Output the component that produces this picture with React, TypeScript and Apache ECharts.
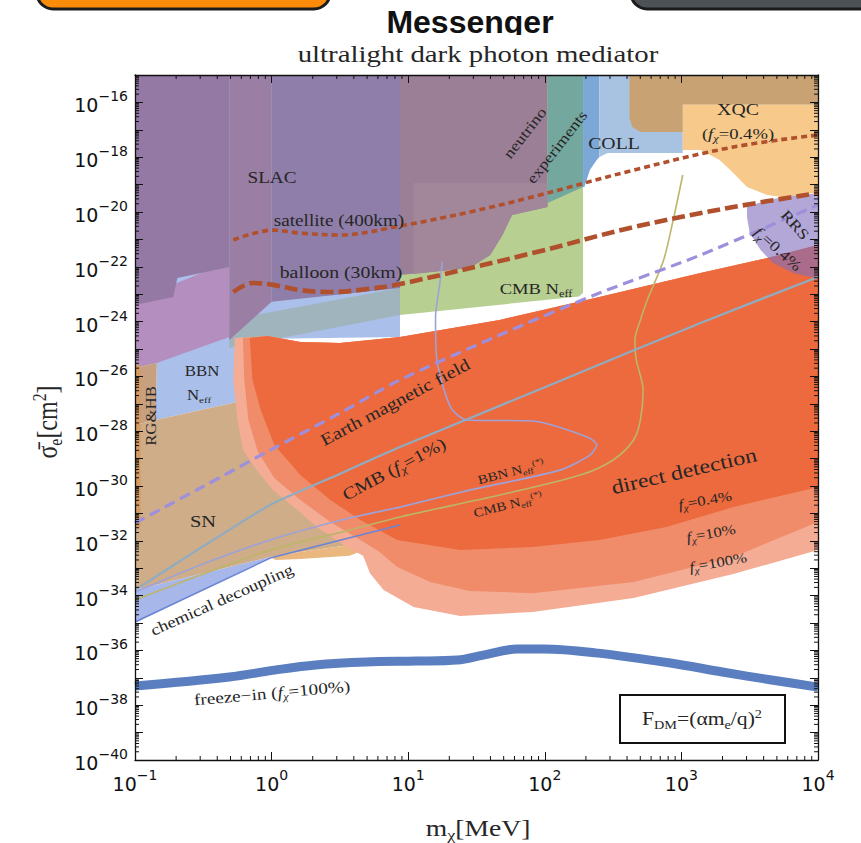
import React, { useEffect, useRef } from "react";
import * as echarts from "echarts";

// Axis ranges in decades: log10(mχ / MeV) and log10(σe / cm²)
const X_MIN = -1;
const X_MAX = 4;
const Y_MIN = -40;
const Y_MAX = -15;
const X_DECADES = [-1, 0, 1, 2, 3];
const MINOR_MULTS = [2, 3, 4, 5, 6, 7, 8, 9];

// ---- Excluded regions, vertices as [log10 mχ, log10 σe] ----
const BBN_NEFF = [[-1, -15], [0.94, -15], [0.94, -24.56], [-0.25, -24.64], [-0.25, -26.93], [-0.85, -27.59], [-0.84, -25.51], [-1, -25.69]];
const CMB_NEFF = [[0.94, -15], [2.28, -15], [2.28, -22.95], [2.25, -23.08], [2.18, -23.12], [0.94, -23.76]];
const NEFF_OVERLAP = [[-0.31, -23.94], [0.94, -22.77], [0.94, -23.76], [-0.31, -24.96]];
const LILAC = [[-1, -23.21], [-0.31, -21.82], [-0.31, -24.56], [-0.84, -25.51], [-1, -25.69]];
const SLAC_A = [[-1, -15], [-0.31, -15], [-0.31, -22.01], [-0.69, -22.41], [-0.72, -23.1], [-1, -23.39]];
const SLAC_B = [[-0.31, -15], [0, -15], [0, -23.28], [-0.31, -24.67]];
const SLAC_C = [[0, -15], [0.94, -15], [0.94, -22.77], [0, -23.28]];
const NU_A = [[0.94, -15], [2.02, -15], [2.02, -19.82], [1.76, -20.11], [1.69, -20.84], [1.6, -21.57], [1.45, -22.04], [0.94, -22.3]];
const NU_B = [[1.04, -18.94], [2.02, -18.94], [2.02, -19.82], [1.76, -20.11], [1.69, -20.84], [1.6, -21.57], [1.45, -22.04], [1.04, -22.26]];
const NU_TEAL = [[2.02, -15], [2.28, -15], [2.28, -19.09], [2.02, -19.67]];
const COLL_A = [[2.28, -15], [2.4, -15], [2.4, -17.99], [2.38, -18.1], [2.33, -18.47], [2.29, -19.09], [2.28, -19.09]];
const COLL_B = [[2.4, -15], [3.01, -15], [3.01, -17.85], [2.46, -17.85], [2.4, -17.99]];
const XQC_A = [[2.62, -15], [4, -15], [4, -16.09], [3.01, -16.09], [3.01, -17.08], [2.7, -17.08], [2.64, -16.9], [2.62, -16.57]];
const XQC_B = [[3.01, -16.09], [4, -16.09], [4, -19.27], [3.87, -19.38], [3.74, -19.45], [3.63, -19.38], [3.48, -19.09], [3.38, -18.58], [3.28, -18.1], [3.14, -17.74], [3.01, -17.74]];
const RG_HB = [[-1, -25.69], [-0.84, -25.51], [-0.85, -27.59], [-1, -27.77]];
const RG_STRIP = [[-1, -25.58], [-0.96, -25.58], [-0.96, -31.5], [-1, -31.5]];
const SN = [[-1, -27.77], [-0.85, -27.59], [-0.25, -26.93], [0.65, -26.86], [0.65, -32.26], [0.57, -32.15], [0.21, -32.41], [-0.01, -32.59], [-1, -33.8]];
const SN_EDGE = [[-0.01, -32.59], [0.21, -32.41], [0.57, -32.15], [0.68, -32.34], [0.57, -32.55], [0.21, -32.66], [0.03, -32.7]];
const CHEM = [[-1, -33.8], [-0.01, -32.59], [-1, -35]];
const RRS = [[3.48, -19.82], [3.63, -19.56], [3.8, -19.42], [4, -19.31], [4, -22.37], [3.94, -22.37], [3.82, -22.23], [3.67, -21.86], [3.58, -21.39], [3.5, -20.77], [3.48, -20.18]];

// direct detection: shared upper edge, then lower boundary for fχ = 100%, 10%, 0.4%
const DD_TOP = [[-0.27, -24.6], [-0.03, -24.53], [0.21, -24.74], [0.5, -24.78], [0.94, -24.56], [1.67, -23.94], [2.4, -23.1], [3.14, -22.23], [3.63, -21.68], [4, -21.2]];
const DD_100_LOW = [[4, -32.34], [3.38, -33.21], [2.65, -34.09], [1.91, -34.6], [1.38, -34.74], [1.04, -34.42], [0.82, -33.8], [0.72, -33.18], [0.67, -32.55], [0.55, -32.23], [0.33, -31.5], [0.19, -30.88], [0.01, -30.15], [-0.11, -29.42], [-0.21, -28.69], [-0.25, -27.59], [-0.28, -26.13], [-0.27, -24.6]];
const DD_10_LOW = [[4, -31.31], [3.38, -32.59], [2.65, -33.5], [1.91, -33.91], [1.45, -33.83], [1.16, -33.5], [0.92, -32.96], [0.79, -32.41], [0.65, -31.97], [0.43, -31.31], [0.21, -30.51], [0.02, -29.71], [-0.1, -28.76], [-0.17, -27.59], [-0.2, -26.13], [-0.21, -24.6]];
const DD_04_LOW = [[4, -30.04], [3.38, -30.77], [2.89, -31.5], [2.4, -31.97], [1.91, -32.23], [1.38, -32.34], [0.92, -31.97], [0.65, -31.24], [0.43, -30.51], [0.21, -29.6], [0.02, -28.5], [-0.08, -27.23], [-0.14, -26.13], [-0.16, -24.6]];

// ---- Curves ----
const CMB_1PCT = [[-1, -33.8], [-0.52, -32.26], [-0.01, -30.69], [0.43, -29.71], [0.94, -28.58], [2.04, -26.31], [3.14, -24.05], [4, -22.37]];
const BBN_NEFF_STAR = [[-1, -33.87], [-0.52, -32.88], [-0.01, -31.97], [0.57, -31.17], [0.94, -30.77], [1.45, -30.15], [2.11, -29.42], [2.33, -28.87], [2.38, -28.5], [2.31, -28.21], [1.91, -27.63], [1.43, -27.59], [1.31, -27.12], [1.21, -25.4], [1.2, -23.83], [1.23, -22.66], [1.25, -21.82]];
const CMB_NEFF_STAR = [[-1, -34.16], [-0.52, -33.25], [-0.01, -32.34], [0.57, -31.61], [0.94, -31.13], [1.67, -30.33], [2.26, -29.6], [2.5, -29.05], [2.65, -28.32], [2.7, -27.59], [2.72, -26.5], [2.67, -25.4], [2.66, -24.67], [2.7, -23.94], [2.75, -23.21], [2.87, -21.75], [2.94, -20.29], [3.01, -18.65]];
const CHEM_LINE = [[-1, -34.96], [-0.01, -32.63], [0.94, -31.42]];
const EARTH_B = [[-1, -31.35], [-0.52, -30.07], [-0.01, -28.69], [0.5, -27.34], [0.94, -26.13], [1.67, -24.49], [2.4, -22.96], [3.14, -21.57], [4, -19.74]];
const SATELLITE = [[-0.28, -21.02], [0.01, -20.66], [0.21, -20.77], [0.5, -20.84], [0.94, -20.51], [1.45, -20], [1.91, -19.45], [2.65, -18.47], [3.38, -17.63], [4, -17.19]];
const BALLOON = [[-0.28, -22.92], [-0.14, -22.59], [0.01, -22.66], [0.21, -22.85], [0.45, -22.92], [0.7, -22.81], [0.94, -22.63], [1.91, -21.5], [2.65, -20.55], [3.38, -19.82], [4, -19.31]];
const FREEZE_IN = [[-1, -37.3], [-0.31, -36.97], [0.02, -36.72], [0.32, -36.53], [0.69, -36.42], [1.06, -36.39], [1.36, -36.35], [1.55, -36.17], [1.8, -35.95], [1.99, -35.95], [2.37, -36.09], [2.92, -36.46], [3.3, -36.79], [3.66, -37.08], [4, -37.34]];

const INK = "#262626";
const SERIF = '"Liberation Serif","Times New Roman",serif';
const SANS = '"DejaVu Sans","Liberation Sans",sans-serif';

function richSet(size: number) {
  const base: any = { fontFamily: SERIF, fontSize: size, fill: INK, verticalAlign: "middle" };
  const s = Math.round(size * 0.66 * 10) / 10;
  return {
    n: { ...base },
    i: { ...base, fontStyle: "italic" },
    b: { ...base, fontSize: s, padding: [size * 0.62, 0, 0, 0] },
    bi: { ...base, fontSize: s, fontStyle: "italic", padding: [size * 0.62, 0, 0, 0] },
    p: { ...base, fontSize: s, padding: [0, 0, size * 0.55, 0] },
  };
}

function label(text: string, x: number, y: number, size: number, rotDeg = 0, sx = 1.2, sy = 1) {
  return {
    type: "text",
    x,
    y,
    rotation: (rotDeg * Math.PI) / 180,
    scaleX: sx,
    scaleY: sy,
    z: 100,
    silent: true,
    style: { text, rich: richSet(size), align: "center", verticalAlign: "middle", fill: INK, fontFamily: SERIF, fontSize: size },
  };
}

function region(points: number[][], fill: string, z = 2) {
  return {
    type: "custom",
    silent: true,
    z,
    data: [[0, -20]],
    renderItem: (_p: any, api: any) => ({
      type: "polygon",
      shape: { points: points.map((pt) => api.coord(pt)) },
      style: { fill, stroke: null },
    }),
  };
}

function curve(points: number[][], color: string, width: number, dash: any = "solid", smooth: number = 0, z = 4) {
  return {
    type: "line",
    data: points,
    symbol: "none",
    showSymbol: false,
    smooth,
    z,
    silent: true,
    lineStyle: { color, width, type: dash, cap: "butt", join: "round" },
  };
}

const supTxt = (v: number) => (v < 0 ? "\u2212" + Math.abs(v) : String(v));
const tickRich = {
  m: { fontFamily: SANS, fontSize: 19, color: "#111", padding: [6, 0, 0, 0], verticalAlign: "middle" },
  e: { fontFamily: SANS, fontSize: 14, color: "#111", padding: [0, 0, 12, 0], verticalAlign: "middle" },
};

function buildOption() {
  const xMinor = X_DECADES.flatMap((d) => MINOR_MULTS.map((k) => d + Math.log10(k)));
  const yDec: number[] = [];
  for (let d = Y_MIN; d < Y_MAX; d++) yDec.push(d);
  const yMinor = yDec.flatMap((d) => MINOR_MULTS.map((k) => d + Math.log10(k)));

  const minorTicks = {
    type: "custom",
    silent: true,
    z: 60,
    data: [[0, -20]],
    renderItem: (params: any, api: any) => {
      const cs = params.coordSys;
      const ch: any[] = [];
      const st = { stroke: "#111", lineWidth: 1 };
      const L = 4;
      for (const v of xMinor) {
        const px = api.coord([v, -20])[0];
        ch.push({ type: "line", shape: { x1: px, y1: cs.y + cs.height, x2: px, y2: cs.y + cs.height - L }, style: st });
        ch.push({ type: "line", shape: { x1: px, y1: cs.y, x2: px, y2: cs.y + L }, style: st });
      }
      for (const v of yMinor) {
        const py = api.coord([0, v])[1];
        ch.push({ type: "line", shape: { x1: cs.x, y1: py, x2: cs.x + L, y2: py }, style: st });
        ch.push({ type: "line", shape: { x1: cs.x + cs.width, y1: py, x2: cs.x + cs.width - L, y2: py }, style: st });
      }
      return { type: "group", children: ch };
    },
  };

  const axisCommon = {
    type: "value",
    z: 50,
    axisLine: { show: true, onZero: false, lineStyle: { color: "#111", width: 1.3 } },
    axisTick: { show: true, inside: true, length: 8, lineStyle: { color: "#111", width: 1 } },
    splitLine: { show: false },
  };

  const ddTop = DD_TOP.slice(1);

  return {
    animation: false,
    backgroundColor: "#ffffff",
    grid: { left: 135, top: 75, width: 683, height: 685, containLabel: false },
    xAxis: [
      {
        ...axisCommon,
        min: X_MIN,
        max: X_MAX,
        interval: 1,
        position: "bottom",
        axisLabel: { margin: 8, formatter: (v: number) => `{m|10}{e|${supTxt(v)}}`, rich: tickRich },
      },
      { ...axisCommon, min: X_MIN, max: X_MAX, interval: 1, position: "top", axisLabel: { show: false } },
    ],
    yAxis: [
      {
        ...axisCommon,
        min: Y_MIN,
        max: Y_MAX,
        interval: 1,
        position: "left",
        axisLabel: {
          margin: 7,
          formatter: (v: number) => (Math.round(v) % 2 === 0 ? `{m|10}{e|${supTxt(v)}}` : ""),
          rich: tickRich,
        },
      },
      { ...axisCommon, min: Y_MIN, max: Y_MAX, interval: 1, position: "right", axisLabel: { show: false } },
    ],
    series: [
      region(BBN_NEFF, "#aabfe9"),
      region(CMB_NEFF, "#b8cf92"),
      region(NEFF_OVERLAP, "#a0b4bd"),
      region(LILAC, "#b48ebe"),
      region(SLAC_A, "#9479a5"),
      region(SLAC_B, "#9b7ea4"),
      region(SLAC_C, "#8f7ea9"),
      region(NU_A, "#9b7f97"),
      region(NU_B, "#a2869a"),
      region(NU_TEAL, "#74a79e"),
      region(COLL_A, "#7ba8d6"),
      region(COLL_B, "#a8c3e2"),
      region(XQC_A, "#c8a273"),
      region(XQC_B, "#f7c98b"),
      region(RG_HB, "#c6a07f"),
      region(SN, "#cead88"),
      region(RG_STRIP, "#d79a60"),
      region(SN_EDGE, "#eab77e"),
      region(CHEM, "#a7b7ea"),
      region([...ddTop, ...DD_100_LOW], "#f4ac95", 3),
      region([...ddTop, ...DD_10_LOW], "#f08c6a", 3),
      region([...ddTop, ...DD_04_LOW], "#ec6a3d", 3),
      region(RRS, "rgba(128,108,190,0.6)", 3),
      curve(CMB_NEFF_STAR, "#bdb56a", 1.6, "solid", 0.3),
      curve(BBN_NEFF_STAR, "#9ea2d8", 1.6, "solid", 0.25),
      curve(CMB_1PCT, "#8facc2", 2.2, "solid", 0.2),
      curve(CHEM_LINE, "#6b84d6", 1.6, "solid", 0),
      curve(EARTH_B, "#9d8fdc", 3.2, [11, 6], 0.3),
      curve(SATELLITE, "#b0502c", 3.6, [6, 4], 0.35),
      curve(BALLOON, "#b0502c", 4.6, [13, 5], 0.35),
      curve(FREEZE_IN, "#5a7ec0", 9, "solid", 0.35),
      minorTicks,
    ],
    graphic: [
      { type: "rect", z: 100, silent: true, shape: { x: 37, y: -40, width: 293, height: 49, r: 16 }, style: { fill: "#fa8c0a", stroke: "#1b1b1b", lineWidth: 3 } },
      { type: "rect", z: 100, silent: true, shape: { x: 631, y: -40, width: 270, height: 49, r: 16 }, style: { fill: "#4c5256", stroke: "#1b1b1b", lineWidth: 3 } },
      {
        type: "text", z: 100, x: 470, y: 22, silent: true,
        style: { text: "Messenger", fontFamily: '"Liberation Sans",Arial,sans-serif', fontWeight: "bold", fontSize: 32, fill: "#111", align: "center", verticalAlign: "middle" },
      },
      { type: "rect", z: 101, silent: true, shape: { x: 360, y: 35, width: 220, height: 7 }, style: { fill: "#ffffff" } },
      label("{n|ultralight dark photon mediator}", 478, 54, 24, 0, 1.2),
      label("{n|m}{b|χ}{n|[MeV]}", 478, 828, 23, 0, 1.2),
      label("{n|σ\u0304}{b|e}{n|[cm}{p|2}{n|]}", 47, 422, 24, 90, 1, 1.2),

      label("{n|SLAC}", 272, 178, 16),
      label("{n|satellite (400km)}", 339, 221, 16),
      label("{n|balloon (30km)}", 341, 273, 16.5),
      label("{n|neutrino}", 525, 133, 15, 52),
      label("{n|experiments}", 557, 147, 15, 52),
      label("{n|COLL}", 614, 144, 16.5),
      label("{n|XQC}", 738, 110, 16.5),
      label("{n|(}{i|f}{bi|χ}{n|=0.4%)}", 738, 134, 15.5),
      label("{n|RRS}", 795, 225, 15, -48),
      label("{i|f}{bi|χ}{n|=0.4%}", 778, 249, 15, -42),
      label("{n|CMB N}{b|eff}", 536, 289, 15.5),
      label("{n|BBN}", 202, 371, 14),
      label("{n|N}{b|eff}", 199, 395, 14),
      label("{n|RG&HB}", 151, 416, 14, 90),
      label("{n|Earth magnetic field}", 395, 402, 17, 28),
      label("{n|CMB (}{i|f}{bi|χ}{n|=1%)}", 394, 469, 17, 28),
      label("{n|BBN N}{b|eff}{p|(*)}", 511, 472, 12.5, 14),
      label("{n|CMB N}{b|eff}{p|(*)}", 508, 505, 12.5, 14),
      label("{n|direct detection}", 684, 471, 20, 13),
      label("{i|f}{bi|χ}{n|=0.4%}", 705, 500, 14, 10),
      label("{i|f}{bi|χ}{n|=10%}", 711, 533, 14, 10),
      label("{i|f}{bi|χ}{n|=100%}", 718, 562, 14, 10),
      label("{n|SN}", 203, 521, 17),
      label("{n|chemical decoupling}", 222, 600, 15.5, 24),
      label("{n|freeze\u2212in (}{i|f}{bi|χ}{n|=100%)}", 272, 693, 16, 5),
      { type: "rect", z: 100, silent: true, shape: { x: 620, y: 695, width: 165, height: 48 }, style: { fill: "#ffffff", stroke: "#111", lineWidth: 2 } },
      label("{n|F}{b|DM}{n|=(αm}{b|e}{n|/q)}{p|2}", 702, 719, 18),
    ],
  };
}

export default function App() {
  const ref = useRef<HTMLDivElement>(null);
  useEffect(() => {
    const chart = echarts.init(ref.current as HTMLDivElement, null, { renderer: "svg" });
    chart.setOption(buildOption() as any);
    return () => chart.dispose();
  }, []);
  return <div ref={ref} style={{ position: "absolute", left: 0, top: 0, width: 861, height: 843, background: "#ffffff" }} />;
}
